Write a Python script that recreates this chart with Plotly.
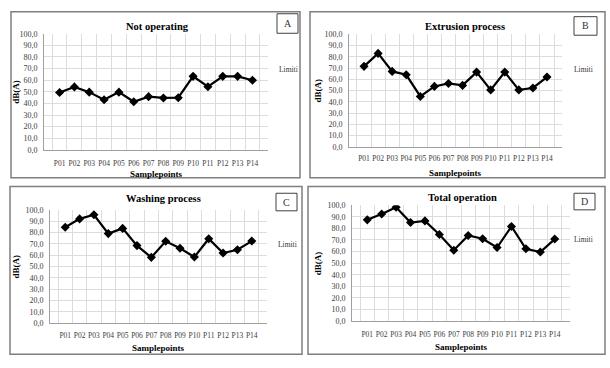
import plotly.graph_objects as go

W, H = 610, 368

points = ["P01", "P02", "P03", "P04", "P05", "P06", "P07",
          "P08", "P09", "P10", "P11", "P12", "P13", "P14"]

not_operating = [49.4, 54.2, 49.7, 43.1, 49.7, 41.4, 45.8, 44.7, 44.9, 63.3, 54.4, 63.3, 63.3, 60.0]
extrusion = [71.5, 83.0, 67.0, 64.0, 44.8, 53.7, 56.3, 54.6, 66.4, 50.6, 66.4, 50.6, 52.3, 62.0]
washing = [84.6, 92.0, 95.7, 79.0, 83.6, 68.4, 58.0, 72.2, 66.1, 58.3, 74.5, 61.8, 64.7, 72.4]
total = [87.4, 92.4, 98.3, 85.1, 86.5, 74.7, 61.2, 73.9, 71.1, 63.5, 81.7, 62.4, 59.6, 70.8]

titles = ["Not operating", "Extrusion process", "Washing process", "Total operation"]
letters = ["A", "B", "C", "D"]
series = [not_operating, extrusion, washing, total]

# layout (pixel coordinates)
plot_boxes = [(44, 268, 30.5, 149.5), (349, 562, 31, 146.5),
              (50, 267, 211, 327), (352, 570, 206.3, 325)]
frames = [(11, 300, 8, 178), (310, 605, 8, 178), (10, 302, 187, 359), (308, 605, 187, 359)]
letter_boxes = [(277, 298, 10, 30), (574, 597, 13, 32), (276, 297, 194, 212), (574, 595, 194, 211)]
title_pos = [(157, 23), (465, 23), (163, 199), (462, 198)]
limiti_pos = [(288, 67), (583, 67), (287, 247), (583, 241)]
xtitle_y = [174, 173, 353, 352]
ytitle_x = [16, 318, 16, 318]
xtick_standoff = [6, 4, 5, 6]

def px(x):
    return x / W

def py(y):
    return 1 - y / H

fig = go.Figure()
shapes = []
annotations = []
font_family = "Liberation Serif"
TXT = "#333333"

def ann(text, x, y, size, angle=0, color=TXT):
    return dict(text=text, xref="paper", yref="paper", x=px(x), y=py(y),
                xanchor="center", yanchor="middle", showarrow=False,
                textangle=angle, font=dict(size=size, family=font_family, color=color))

for i in range(4):
    n = "" if i == 0 else str(i + 1)
    x0, x1, y0, y1 = plot_boxes[i]
    fig.add_trace(go.Scatter(
        x=points, y=series[i], mode="lines+markers",
        line=dict(color="black", width=2.2),
        marker=dict(symbol="diamond", size=7, color="black"),
        xaxis="x" + n, yaxis="y" + n, showlegend=False))
    fig.layout["xaxis" + n] = dict(
        domain=[px(x0), px(x1)], anchor="y" + n, type="category",
        tickson="boundaries", showgrid=True, gridcolor="#dcdcdc", gridwidth=1,
        showline=True, linecolor="#a0a0a0", linewidth=1,
        ticks="", tickangle=0, ticklabelstandoff=xtick_standoff[i],
        tickfont=dict(size=7.5, family=font_family, color="#404040"),
        fixedrange=True)
    fig.layout["yaxis" + n] = dict(
        domain=[py(y1), py(y0)], anchor="x" + n, range=[0, 100],
        tickvals=list(range(0, 101, 10)), tickformat=".1f",
        showgrid=True, gridcolor="#dcdcdc", gridwidth=1,
        showline=True, linecolor="#a0a0a0", linewidth=1, zeroline=False,
        ticks="", ticklabelstandoff=4,
        tickfont=dict(size=8, family=font_family, color="#404040"),
        fixedrange=True)
    fx0, fx1, fy0, fy1 = frames[i]
    shapes.append(dict(type="rect", xref="paper", yref="paper",
                       x0=px(fx0), x1=px(fx1), y0=py(fy1), y1=py(fy0),
                       line=dict(color="#7f7f7f", width=1.5)))
    lx0, lx1, ly0, ly1 = letter_boxes[i]
    shapes.append(dict(type="rect", xref="paper", yref="paper",
                       x0=px(lx0), x1=px(lx1), y0=py(ly1), y1=py(ly0),
                       line=dict(color="#404040", width=1)))
    annotations.append(ann(letters[i], (lx0 + lx1) / 2, (ly0 + ly1) / 2, 10))
    tx, ty = title_pos[i]
    annotations.append(ann("<b>" + titles[i] + "</b>", tx, ty, 10.5, color="black"))
    lx, ly = limiti_pos[i]
    annotations.append(ann("Limiti", lx, ly, 7.5))
    annotations.append(ann("<b>Samplepoints</b>", (x0 + x1) / 2, xtitle_y[i], 9, color="black"))
    annotations.append(ann("<b>dB(A)</b>", ytitle_x[i], (y0 + y1) / 2, 9, angle=-90, color="black"))

fig.update_layout(
    width=W, height=H, margin=dict(l=0, r=0, t=0, b=0),
    paper_bgcolor="white", plot_bgcolor="white",
    separators=",.", shapes=shapes, annotations=annotations,
    showlegend=False)

fig.write_html("out.html", config={"displayModeBar": False},
               post_script="document.body.style.margin='0';")
